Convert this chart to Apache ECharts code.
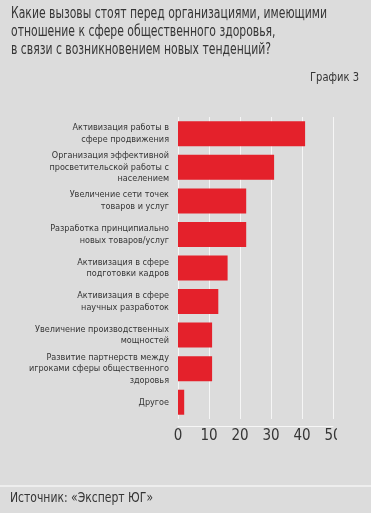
<!DOCTYPE html>
<html>
<head>
<meta charset="utf-8">
<script src="https://cdn.jsdelivr.net/npm/echarts@6/dist/echarts.min.js"></script>
<style>
  html, body { margin: 0; padding: 0; background: #dcdcdc; }
  #bg { position: absolute; left: 0; top: 0; width: 371px; height: 513px; }
  #plot { position: absolute; left: 0; top: 0; width: 337px; height: 513px; overflow: hidden; }
</style>
</head>
<body>
<div id="bg"></div>
<div id="plot"></div>
<script>
const titleLines = [
  'Какие вызовы стоят перед организациями, имеющими',
  'отношение к сфере общественного здоровья,',
  'в связи с возникновением новых тенденций?'
];
const chartLabel = 'График 3';
const sourceText = 'Источник: «Эксперт ЮГ»';
const categories = [
  'Активизация работы в\nсфере продвижения',
  'Организация эффективной\nпросветительской работы с\nнаселением',
  'Увеличение сети точек\nтоваров и услуг',
  'Разработка принципиально\nновых товаров/услуг',
  'Активизация в сфере\nподготовки кадров',
  'Активизация в сфере\nнаучных разработок',
  'Увеличение производственных\nмощностей',
  'Развитие партнерств между\nигроками сферы общественного\nздоровья',
  'Другое'
];
const values = [41, 31, 22, 22, 16, 13, 11, 11, 2];
const xTicks = [0, 10, 20, 30, 40, 50];

const FONT = '"Liberation Sans Narrow", "DejaVu Sans Condensed", "Roboto", sans-serif';
const TXT = '#353535';

const ctx = document.createElement('canvas').getContext('2d');
function fitScale(text, size, targetWidth) {
  ctx.font = size + 'px ' + FONT;
  const w = ctx.measureText(text).width;
  return Math.min(1, targetWidth / w);
}
const titleSize = 16;
const titleScale = fitScale(titleLines[0], titleSize, 316);
const labelSize = 13;
const labelScale = fitScale(chartLabel, labelSize, 49);
const srcSize = 14;
const srcScale = fitScale(sourceText, srcSize, 143);

const titleGraphics = titleLines.map((t, i) => ({
  type: 'text', x: 11, y: 13.5 + i * 18, scaleX: titleScale,
  style: { text: t, font: titleSize + 'px ' + FONT, fill: TXT, align: 'left', verticalAlign: 'middle' }
}));

const bg = echarts.init(document.getElementById('bg'));
bg.setOption({
  backgroundColor: '#dcdcdc',
  animation: false,
  graphic: titleGraphics.concat([
    { type: 'text', x: 359, y: 77.5, scaleX: labelScale,
      style: { text: chartLabel, font: labelSize + 'px ' + FONT, fill: TXT, align: 'right', verticalAlign: 'middle' } },
    { type: 'line', shape: { x1: 0, y1: 486, x2: 371, y2: 486 }, style: { stroke: '#f4f4f4', lineWidth: 1.5 } },
    { type: 'text', x: 10, y: 498.5, scaleX: srcScale,
      style: { text: sourceText, font: srcSize + 'px ' + FONT, fill: TXT, align: 'left', verticalAlign: 'middle' } }
  ])
});

const plot = echarts.init(document.getElementById('plot'));
plot.setOption({
  animation: false,
  grid: { left: 178, right: 4, top: 117, bottom: 94, containLabel: false, outerBoundsMode: 'none' },
  xAxis: {
    type: 'value', min: 0, max: 50, interval: 10, offset: 7,
    axisLine: { show: true, lineStyle: { color: '#f6f6f6', width: 1 } },
    axisTick: { show: false },
    splitLine: { show: true, lineStyle: { color: '#f6f6f6', width: 1 } },
    axisLabel: { margin: 3, fontFamily: FONT, fontSize: 15, color: TXT,
      formatter: v => (xTicks.indexOf(v) >= 0 ? String(v) : '') }
  },
  yAxis: {
    type: 'category', data: categories, inverse: true,
    axisLine: { show: false }, axisTick: { show: false },
    axisLabel: { margin: 9, fontFamily: FONT, fontSize: 9, color: TXT, lineHeight: 11.5, align: 'right' }
  },
  series: [{
    type: 'bar', data: values, barWidth: 25,
    itemStyle: { color: '#e4212b' }
  }]
});
</script>
</body>
</html>
